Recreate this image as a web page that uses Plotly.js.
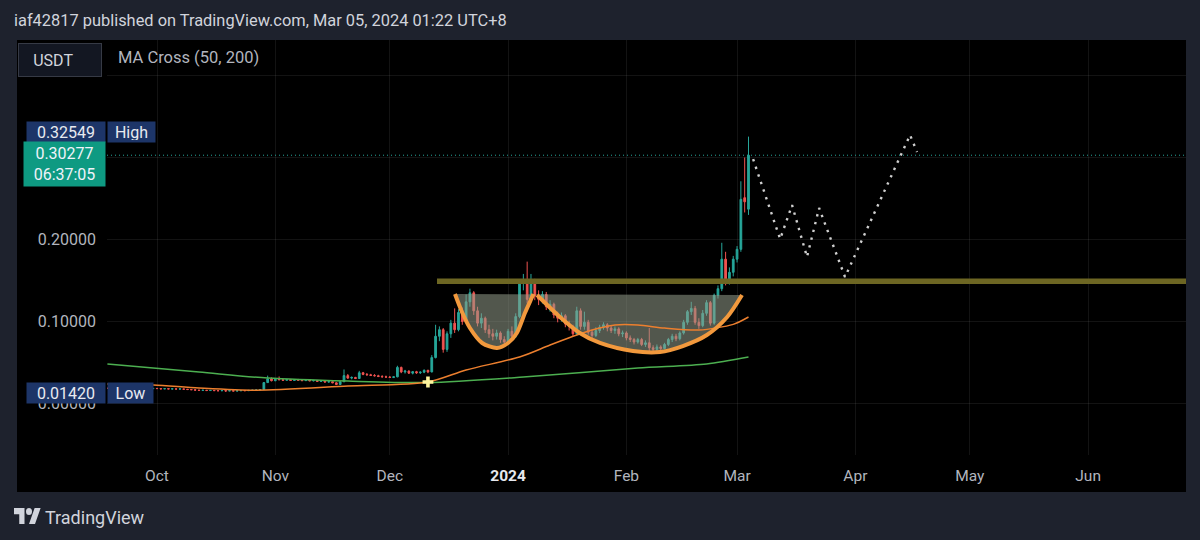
<!DOCTYPE html>
<html><head><meta charset="utf-8">
<script src="https://cdn.plot.ly/plotly-3.0.1.min.js"></script>
<style>html,body{margin:0;padding:0;background:#1e222d;}#chart{width:1200px;height:540px;}</style>
</head><body><div id="chart"></div>
<script>
// ---------- DATA ----------
const firstCandleDate = '2023-09-18';
const candleOpen = [
.0186,.0185,.0183,.0186,.0182,.0184,.0181,.0183,.0180,.0182,.0179,.0183,.0181,
.0184,.0182,.0178,.0181,.0177,.0179,.0176,.0178,.0174,.0170,.0168,.0163,.0160,.0162,.0158,.0160,.0157,.0155,.0158,.0153,.0156,.0152,.0155,.0158,.0156,.0160,.0163,.0165,.0170,.0255,.0300,
.0278,.0295,.0290,.0283,.0292,.0282,.0288,.0284,.0279,.0290,.0276,.0281,.0270,.0274,.0262,.0266,.0252,.0232,.0265,.0340,.0310,.0318,.0305,.0375,.0355,.0350,.0342,.0338,.0330,.0325,
.0322,.0318,.0325,.0440,.0385,.0395,.0370,.0388,.0375,.0382,.0405,.0385,.0560,.0820,.0900,.0660,.0850,.0980,.0900,.1110,.1000,.1240,.1350,.1130,.0980,.1040,.0900,.0850,.0820,.0860,.0780,
.0750,.0880,.0820,.1060,.1470,.1500,.1270,.1490,.1310,.1270,.1330,.1180,.1210,.1080,.1040,.1070,.0970,.0940,.0850,.1130,.0940,.0990,.0870,.0830,.0890,.0930,.0960,.0920,.0890,.0910,.0850,
.0860,.0800,.0780,.0750,.0780,.0720,.0740,.0680,.0660,.0690,.0670,.0720,.0780,.0820,.0790,.0860,.0990,.1120,.1160,.0990,.0950,.1100,.1230,.0980,.1320,.1400,.1760,.1480,.1600,
.1760,.1880,.2510,.2370];
const candleHigh = [
.0190,.0188,.0189,.0188,.0187,.0186,.0186,.0185,.0185,.0184,.0186,.0185,.0187,
.0186,.0184,.0183,.0182,.0181,.0180,.0180,.0179,.0175,.0172,.0169,.0165,.0164,.0163,.0162,.0161,.0158,.0160,.0159,.0158,.0157,.0157,.0160,.0159,.0162,.0165,.0167,.0172,.0262,.0340,.0318,
.0305,.0330,.0298,.0300,.0296,.0295,.0300,.0292,.0295,.0293,.0286,.0285,.0280,.0277,.0272,.0270,.0258,.0272,.0415,.0360,.0330,.0325,.0398,.0385,.0372,.0362,.0358,.0350,.0345,.0340,
.0335,.0330,.0460,.0450,.0410,.0405,.0395,.0398,.0392,.0415,.0410,.0590,.0960,.0940,.0920,.0880,.1020,.1160,.1150,.1170,.1330,.1400,.1370,.1180,.1100,.1060,.0960,.0910,.0900,.0880,.0820,
.0910,.0940,.1100,.1510,.1580,.1730,.1580,.1520,.1380,.1370,.1360,.1260,.1230,.1120,.1110,.1090,.1010,.0960,.1180,.1160,.1120,.1020,.0900,.0930,.0960,.0990,.0980,.0950,.0940,.0930,.0890,
.0880,.0830,.0800,.0800,.0800,.0770,.0920,.0710,.0720,.0710,.0740,.0800,.0850,.0850,.0880,.1020,.1140,.1240,.1190,.1040,.1140,.1260,.1250,.1340,.1440,.1960,.1850,.1660,.1800,
.1920,.2710,.3000,.32549];
const candleLow = [
.0183,.0181,.0182,.0180,.0181,.0179,.0180,.0178,.0179,.0177,.0178,.0179,.0180,
.0180,.0176,.0177,.0175,.0176,.0174,.0175,.0172,.0168,.0166,.0161,.0158,.0159,.0156,.0157,.0155,.0152,.0154,.0142,.0151,.0150,.0151,.0154,.0154,.0155,.0158,.0161,.0163,.0168,.0250,.0270,
.0272,.0285,.0275,.0280,.0278,.0276,.0280,.0274,.0276,.0272,.0270,.0266,.0262,.0258,.0255,.0248,.0225,.0228,.0262,.0300,.0295,.0298,.0300,.0345,.0340,.0335,.0330,.0322,.0318,.0316,
.0312,.0310,.0320,.0370,.0365,.0360,.0355,.0362,.0360,.0370,.0370,.0380,.0550,.0760,.0620,.0630,.0800,.0860,.0880,.0960,.0980,.1180,.1080,.0940,.0920,.0860,.0800,.0770,.0780,.0740,.0710,
.0730,.0780,.0800,.1040,.1380,.1220,.1240,.1260,.1200,.1220,.1140,.1120,.1040,.0990,.1000,.0930,.0890,.0820,.0830,.0900,.0900,.0840,.0790,.0810,.0860,.0900,.0880,.0860,.0850,.0820,.0810,
.0770,.0750,.0720,.0730,.0700,.0690,.0610,.0630,.0640,.0650,.0660,.0700,.0750,.0760,.0770,.0840,.0960,.1080,.0960,.0910,.0930,.1070,.0950,.0960,.1280,.1370,.1440,.1450,.1550,
.1720,.1850,.2330,.2300];
const candleClose = [
.0185,.0183,.0186,.0182,.0184,.0181,.0183,.0180,.0182,.0179,.0183,.0181,.0184,
.0182,.0178,.0181,.0177,.0179,.0176,.0178,.0174,.0170,.0168,.0163,.0160,.0162,.0158,.0160,.0157,.0155,.0158,.0153,.0156,.0152,.0155,.0158,.0156,.0160,.0163,.0165,.0170,.0255,.0300,.0278,
.0295,.0290,.0283,.0292,.0282,.0288,.0284,.0279,.0290,.0276,.0281,.0270,.0274,.0262,.0266,.0252,.0232,.0265,.0340,.0310,.0318,.0305,.0375,.0355,.0350,.0342,.0338,.0330,.0325,.0322,
.0318,.0325,.0440,.0385,.0395,.0370,.0388,.0375,.0382,.0405,.0385,.0560,.0820,.0900,.0660,.0850,.0980,.0900,.1110,.1000,.1240,.1350,.1130,.0980,.1040,.0900,.0850,.0820,.0860,.0780,.0750,
.0880,.0820,.1060,.1470,.1500,.1270,.1490,.1310,.1270,.1330,.1180,.1210,.1080,.1040,.1070,.0970,.0940,.0850,.1130,.0940,.0990,.0870,.0830,.0890,.0930,.0960,.0920,.0890,.0910,.0850,.0860,
.0800,.0780,.0750,.0780,.0720,.0740,.0680,.0660,.0690,.0670,.0720,.0780,.0820,.0790,.0860,.0990,.1120,.1160,.0990,.0950,.1100,.1230,.0980,.1320,.1400,.1760,.1480,.1600,.1760,
.1880,.2490,.2460,.30277];

// moving averages
const ma50Dates = ['2023-09-18','2023-09-30','2023-10-12','2023-10-27','2023-11-20','2023-12-11','2023-12-21','2024-01-04','2024-01-12','2024-01-19','2024-01-25','2024-01-29','2024-02-04','2024-02-11','2024-02-20','2024-02-29','2024-03-04'];
const ma50Vals  = [0.0238,0.0226,0.0189,0.0162,0.0213,0.0262,0.0409,0.0567,0.0713,0.0835,0.0920,0.0957,0.0957,0.0920,0.0896,0.0965,0.1055];
const ma200Dates = ['2023-09-18','2023-10-12','2023-10-30','2023-11-20','2023-12-11','2024-01-05','2024-02-04','2024-02-22','2024-03-04'];
const ma200Vals  = [0.0482,0.0384,0.0311,0.0274,0.0256,0.0323,0.0433,0.0482,0.0567];

// drawings
const cupLeftDates = ['2023-12-18 02:00','2023-12-19 22:00','2023-12-22 00:00','2023-12-25 05:00','2023-12-29 02:00','2024-01-01 00:00','2024-01-03 07:00','2024-01-05 10:00','2024-01-07 07:00','2024-01-07 15:00'];
const cupLeftVals  = [0.1335,0.1116,0.0921,0.0738,0.0677,0.0738,0.0860,0.1104,0.1299,0.1335];
const cupRightDates = ['2024-01-08 14:00','2024-01-14 14:00','2024-01-19 19:00','2024-01-25 02:00','2024-02-02 17:00','2024-02-09 19:00','2024-02-15 19:00','2024-02-22 02:00','2024-02-27 10:00','2024-03-02 07:00'];
const cupRightVals  = [0.1323,0.1055,0.0860,0.0738,0.0640,0.0628,0.0701,0.0835,0.1055,0.1323];
const resistStart = '2023-12-13 09:00';
const resistEnd = '2024-07-20';
const resistLevel = 0.149;
const projDates = ['2024-03-05 05:00','2024-03-12 07:00','2024-03-15 10:00','2024-03-19 08:00','2024-03-22 12:00','2024-03-29 07:00','2024-04-15 08:00','2024-04-17 04:00'];
const projVals  = [0.298,0.2006,0.242,0.1787,0.2384,0.1543,0.3274,0.3067];
const crossDate = '2023-12-11';
const crossVal = 0.0262;

// labels
const highVal = 0.32549;
const lowVal = 0.01420;
const lastClose = 0.30277;
const countdown = '06:37:05';
const monthTicks = ['2023-10-01','2023-11-01','2023-12-01','2024-01-01','2024-02-01','2024-03-01','2024-04-01','2024-05-01','2024-06-01'];
const monthLabels = ['Oct','Nov','Dec','<span style="color:#e6e8ee"><b>2024</b></span>','Feb','Mar','Apr','May','Jun'];
const yTicks = [0,0.1,0.2,0.3,0.4];
const yTickLabels = ['0.00000','0.10000','0.20000','',''];
const headerText = 'iaf42817 published on TradingView.com, Mar 05, 2024 01:22 UTC+8';
const indicatorText = 'MA Cross (50, 200)';
const currencyText = 'USDT';

// ---------- BUILD ----------
function dayList(start, n){const out=[];const t0=Date.parse(start+'T00:00:00Z');for(let i=0;i<n;i++){out.push(new Date(t0+i*86400000).toISOString().slice(0,10));}return out;}
const candleDates = dayList(firstCandleDate, candleClose.length);

const W=1200,H=540,ML=107,MR=14,MT=40,MB=85;
const PW=W-ML-MR, PH=H-MT-MB;
const px=(x)=>(x-ML)/PW, py=(y)=>(H-MB-y)/PH;

const orangeThick = '#f2993d';
const traces = [
  {type:'scatter',mode:'lines',x:cupLeftDates.concat(cupRightDates),y:cupLeftVals.concat(cupRightVals),
   fill:'toself',fillcolor:'rgba(150,158,140,0.55)',line:{width:0,shape:'spline',smoothing:0.8},hoverinfo:'skip'},
  {type:'scatter',mode:'lines',x:[resistStart,resistEnd],y:[resistLevel,resistLevel],line:{color:'#6d6623',width:5.5}},
  {type:'scatter',mode:'lines',x:ma200Dates,y:ma200Vals,line:{color:'#4caf50',width:1.5,shape:'spline',smoothing:0.8}},
  {type:'scatter',mode:'lines',x:ma50Dates,y:ma50Vals,line:{color:'#ec7f2e',width:1.5,shape:'spline',smoothing:0.8}},
  {type:'candlestick',x:candleDates,open:candleOpen,high:candleHigh,low:candleLow,close:candleClose,
   increasing:{line:{color:'#26a69a',width:1},fillcolor:'#26a69a'},
   decreasing:{line:{color:'#ef5350',width:1},fillcolor:'#ef5350'},whiskerwidth:0},
  {type:'scatter',mode:'lines',x:cupLeftDates,y:cupLeftVals,line:{color:orangeThick,width:4,shape:'spline',smoothing:0.8}},
  {type:'scatter',mode:'lines',x:cupRightDates,y:cupRightVals,line:{color:orangeThick,width:4,shape:'spline',smoothing:0.8}},
  {type:'scatter',mode:'lines',x:projDates,y:projVals,line:{color:'#cfcfcf',width:2.4,dash:'2.4px,5.6px'}},
  {type:'scatter',mode:'markers',x:[crossDate],y:[crossVal],marker:{symbol:'cross',size:9,color:'#fff59d',line:{width:0}}}
];

const navy = '#1d3568';
const lblFont = {size:16,color:'#e8eaf0'};
const annotations = [
  {text:headerText,xref:'paper',yref:'paper',x:px(12),y:py(20),xanchor:'left',yanchor:'middle',showarrow:false,font:{size:16.4,color:'#d1d4dc'}},
  {text:'\u2002\u2005'+currencyText,xref:'paper',yref:'paper',x:px(18),y:py(43),xanchor:'left',yanchor:'top',showarrow:false,align:'left',
   width:78,height:28,borderpad:2,bgcolor:'#131722',bordercolor:'#363a45',borderwidth:1,font:{size:16,color:'#d1d4dc'}},
  {text:indicatorText,xref:'paper',yref:'paper',x:px(116),y:py(57),xanchor:'left',yanchor:'middle',showarrow:false,font:{size:16.5,color:'#b2b5be'}},
  {text:highVal.toFixed(5),xref:'paper',yref:'y',x:px(106),y:highVal,yshift:5,xanchor:'right',yanchor:'middle',showarrow:false,
   width:74,height:16,borderpad:2,bgcolor:navy,font:lblFont},
  {text:'High',xref:'paper',yref:'y',x:px(107),y:highVal,yshift:5,xanchor:'left',yanchor:'middle',showarrow:false,
   width:43,height:16,borderpad:2,bgcolor:navy,font:lblFont},
  {text:lastClose.toFixed(5)+'<br>'+countdown,xref:'paper',yref:'y',x:px(106),y:lastClose,yshift:-9,xanchor:'right',yanchor:'middle',showarrow:false,
   width:77,height:40,borderpad:2,bgcolor:'#0e9a82',font:{size:16,color:'#f0f3fa'}},
  {text:lowVal.toFixed(5),xref:'paper',yref:'y',x:px(106),y:lowVal,yshift:-1,xanchor:'right',yanchor:'middle',showarrow:false,
   width:74,height:16,borderpad:2,bgcolor:navy,font:lblFont},
  {text:'Low',xref:'paper',yref:'y',x:px(107),y:lowVal,yshift:-1,xanchor:'left',yanchor:'middle',showarrow:false,
   width:41,height:16,borderpad:2,bgcolor:navy,font:lblFont},
  {text:'TradingView',xref:'paper',yref:'paper',x:px(43),y:py(517),xanchor:'left',yanchor:'middle',showarrow:false,font:{size:18,color:'#d1d4dc'}}
];

const logoSvg = '<svg xmlns="http://www.w3.org/2000/svg" viewBox="0 4 36 18" preserveAspectRatio="none"><path fill="#d1d4dc" d="M14 22H7V11H0V4h14v18zM28 22h-8l7.5-18h8L28 22z"/><circle fill="#d1d4dc" cx="20" cy="8" r="4"/></svg>';

const layout = {
  width:W,height:H,margin:{l:ML,r:MR,t:MT,b:MB},
  paper_bgcolor:'#1e222d',plot_bgcolor:'#000000',
  font:{family:'Roboto, "Open Sans", sans-serif',color:'#b2b5be'},
  showlegend:false,hovermode:false,dragmode:false,boxgap:0.35,
  xaxis:{type:'date',range:['2023-09-17 21:30','2024-06-26 15:30'],tickmode:'array',tickvals:monthTicks,ticktext:monthLabels,
    showgrid:true,gridcolor:'rgba(255,255,255,0.075)',gridwidth:1,ticks:'',ticklabelstandoff:9,tickfont:{size:15.5,color:'#b2b5be'},
    zeroline:false,showline:false,rangeslider:{visible:false},fixedrange:true},
  yaxis:{range:[-0.0628,0.4433],tickmode:'array',tickvals:yTicks,ticktext:yTickLabels,side:'left',
    showgrid:true,gridcolor:'rgba(255,255,255,0.075)',gridwidth:1,ticks:'',ticklabelstandoff:10,tickfont:{size:16,color:'#b2b5be'},
    zeroline:false,showline:false,fixedrange:true},
  shapes:[
    {type:'rect',xref:'paper',yref:'paper',x0:px(17),x1:px(1186),y0:py(492),y1:py(40),fillcolor:'#000000',line:{width:0},layer:'below'},
    {type:'line',xref:'paper',yref:'y',x0:0,x1:1,y0:lastClose,y1:lastClose,line:{color:'#26a69a',width:1,dash:'1px,3px'}}
  ],
  annotations:annotations,
  images:[{source:'data:image/svg+xml;charset=utf-8,'+encodeURIComponent(logoSvg),xref:'paper',yref:'paper',
    x:px(14),y:py(508),sizex:27/PW,sizey:16/PH,xanchor:'left',yanchor:'top',sizing:'stretch',layer:'above'}]
};

Plotly.newPlot('chart',traces,layout,{staticPlot:true,displayModeBar:false});
</script></body></html>
